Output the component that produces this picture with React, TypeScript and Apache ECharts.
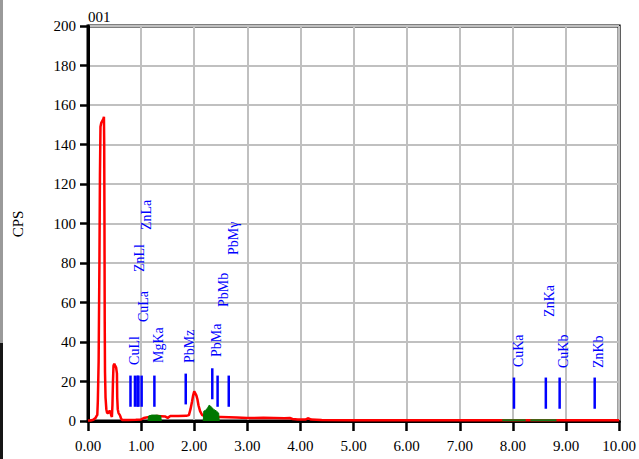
import React, { useEffect, useRef } from "react";
import * as echarts from "echarts";

const xTickMax = 10;
const yTickMax = 200;

// [energy keV, counts]
const redSpectrum: number[][] = [
  [0.0, 0.3], [0.05, 0.3], [0.1, 0.6], [0.14, 1.5], [0.16, 2.5], [0.175, 3], [0.185, 10],
  [0.2, 30], [0.215, 80], [0.225, 125], [0.235, 149], [0.25, 151], [0.27, 152], [0.29, 153],
  [0.3, 154], [0.305, 140], [0.31, 100], [0.315, 50], [0.32, 25], [0.33, 12], [0.345, 6],
  [0.36, 4], [0.38, 4], [0.4, 5], [0.42, 5], [0.435, 3], [0.45, 2], [0.46, 8], [0.47, 20],
  [0.48, 28], [0.495, 29], [0.51, 28], [0.53, 27], [0.545, 24], [0.55, 12], [0.56, 6],
  [0.575, 4], [0.6, 3], [0.62, 1.5], [0.64, 0.5], [0.75, 0.5], [0.9, 0.6], [1.0, 0.8],
  [1.05, 1.5], [1.15, 2], [1.3, 2.5], [1.45, 2.3], [1.5, 1.6], [1.55, 2.5], [1.7, 2.5],
  [1.85, 2.6], [1.9, 3], [1.93, 6], [1.96, 10], [1.98, 13], [2.0, 15], [2.02, 14],
  [2.04, 13], [2.06, 11], [2.08, 8], [2.11, 5], [2.15, 3], [2.2, 2.5], [2.35, 2],
  [2.5, 2], [2.8, 1.8], [3.0, 1.5], [3.3, 1.6], [3.5, 1.5], [3.7, 1.4], [3.8, 1.5],
  [3.85, 1], [3.95, 0.8], [4.1, 0.8], [4.15, 1.4], [4.2, 0.7], [4.4, 0.5], [5.0, 0.4],
  [6.0, 0.4], [7.0, 0.4], [8.0, 0.4], [9.0, 0.4], [10.0, 0.4],
];

const greenRoi1: number[][] = [
  [1.13, 0], [1.14, 2.5], [1.2, 3], [1.3, 3], [1.37, 2.6], [1.38, 0],
];
const greenRoi2: number[][] = [
  [2.17, 0], [2.18, 5], [2.22, 5.5], [2.26, 7], [2.28, 8], [2.31, 7.5], [2.36, 6],
  [2.42, 5], [2.46, 4], [2.47, 0],
];
const greenRoi3: number[][] = [[7.8, 0.4], [8.24, 0.4]];
const greenRoi4: number[][] = [[8.33, 0.4], [8.82, 0.4]];

// [energy, low, high]
const markerLines: number[][] = [
  [0.8, 7.2, 23], [0.884, 7.2, 23], [0.93, 7.2, 23], [0.95, 7.2, 23], [1.01, 7.2, 23],
  [1.25, 7.2, 23], [1.84, 8.4, 24], [2.34, 11, 26.7], [2.44, 7.2, 23], [2.65, 7.2, 23],
  [8.02, 6.2, 22], [8.62, 6.2, 22], [8.88, 6.2, 22], [9.54, 6.2, 22],
];

const markerNames = [
  "CuLl", "CuLa", "ZnLl", "ZnLa", "MgKa", "PbMz", "PbMa", "PbMb", "PbMγ",
  "CuKa", "ZnKa", "CuKb", "ZnKb",
];
// [x center, y of text start]
const markerLabelPos: number[][] = [
  [0.883, 28.4], [1.043, 50.1], [0.977, 75.4], [1.1, 96.7], [1.325, 29.4],
  [1.917, 29.4], [2.415, 32.4], [2.547, 57.7], [2.735, 84],
  [8.1, 27.3], [8.69, 52.7], [8.95, 26.8], [9.605, 26.8],
];

const SERIF = '"Liberation Serif", "Times New Roman", serif';

export default function App() {
  const ref = useRef<HTMLDivElement>(null);
  useEffect(() => {
    if (!ref.current) return;
    const chart = echarts.init(ref.current, undefined, { renderer: "svg" });
    const greenArea = (data: number[][]) => ({
      type: "line",
      data,
      showSymbol: false,
      symbol: "none",
      lineStyle: { color: "#007700", width: 1 },
      areaStyle: { color: "#007700", opacity: 1 },
      z: 4,
    });
    const greenLine = (data: number[][]) => ({
      type: "line",
      data,
      showSymbol: false,
      symbol: "none",
      lineStyle: { color: "#1a7a1a", width: 2 },
      z: 4,
    });
    chart.setOption({
      animation: false,
      backgroundColor: "#ffffff",
      grid: {
        left: 88,
        right: 19,
        top: 26,
        bottom: 38,
        show: true,
        borderColor: "#000",
        borderWidth: 3,
        containLabel: false,
      },
      graphic: [
        { type: "rect", shape: { x: 0, y: 0, width: 3, height: 343 }, style: { fill: "#9a9a9a" } },
        { type: "rect", shape: { x: 0, y: 343, width: 3, height: 116 }, style: { fill: "#151515" } },
        {
          type: "text",
          left: 88,
          top: 9,
          style: { text: "001", font: `15px ${SERIF}`, fill: "#000" },
        },
        {
          type: "text",
          x: 18,
          y: 224,
          rotation: Math.PI / 2,
          style: {
            text: "CPS",
            font: `15px ${SERIF}`,
            fill: "#000",
            align: "center",
            verticalAlign: "middle",
          },
        },
      ],
      xAxis: {
        type: "value",
        min: 0,
        max: xTickMax,
        interval: 1,
        axisLine: { show: true, lineStyle: { color: "#000", width: 3 } },
        axisTick: { show: true, length: 10, lineStyle: { color: "#000", width: 2.5 } },
        axisLabel: {
          formatter: (v: number) => v.toFixed(2),
          fontFamily: SERIF,
          fontSize: 15,
          color: "#000",
          margin: 17,
        },
        splitLine: { show: true, lineStyle: { color: "#c0c0c0", width: 2 } },
      },
      yAxis: {
        type: "value",
        min: 0,
        max: yTickMax,
        interval: 20,
        axisLine: { show: true, lineStyle: { color: "#000", width: 3 } },
        axisTick: { show: true, length: 8, lineStyle: { color: "#000", width: 2.5 } },
        axisLabel: {
          fontFamily: SERIF,
          fontSize: 15,
          color: "#000",
          margin: 12,
        },
        splitLine: { show: true, lineStyle: { color: "#c0c0c0", width: 2 } },
      },
      series: [
        {
          type: "line",
          data: redSpectrum,
          showSymbol: false,
          symbol: "none",
          lineStyle: { color: "#ff0000", width: 2.5 },
          z: 3,
        },
        greenArea(greenRoi1),
        greenArea(greenRoi2),
        greenLine(greenRoi3),
        greenLine(greenRoi4),
        {
          type: "custom",
          data: markerLines,
          encode: { x: 0, y: 1 },
          clip: false,
          z: 5,
          renderItem: (_params: any, api: any) => {
            const p0 = api.coord([api.value(0), api.value(1)]);
            const p1 = api.coord([api.value(0), api.value(2)]);
            return {
              type: "line",
              shape: { x1: p0[0], y1: p0[1], x2: p1[0], y2: p1[1] },
              style: { stroke: "#0000ff", lineWidth: 2.5 },
            };
          },
        },
        {
          type: "custom",
          data: markerLabelPos,
          encode: { x: 0, y: 1 },
          clip: false,
          z: 6,
          renderItem: (params: any, api: any) => {
            const p = api.coord([api.value(0), api.value(1)]);
            return {
              type: "text",
              x: p[0],
              y: p[1],
              rotation: Math.PI / 2,
              style: {
                text: markerNames[params.dataIndex],
                fill: "#0000ff",
                font: `14px ${SERIF}`,
                align: "left",
                verticalAlign: "middle",
              },
            };
          },
        },
      ],
    });
    return () => chart.dispose();
  }, []);
  return (
    <div
      ref={ref}
      style={{ position: "fixed", left: 0, top: 0, width: 639, height: 459, background: "#fff" }}
    />
  );
}
